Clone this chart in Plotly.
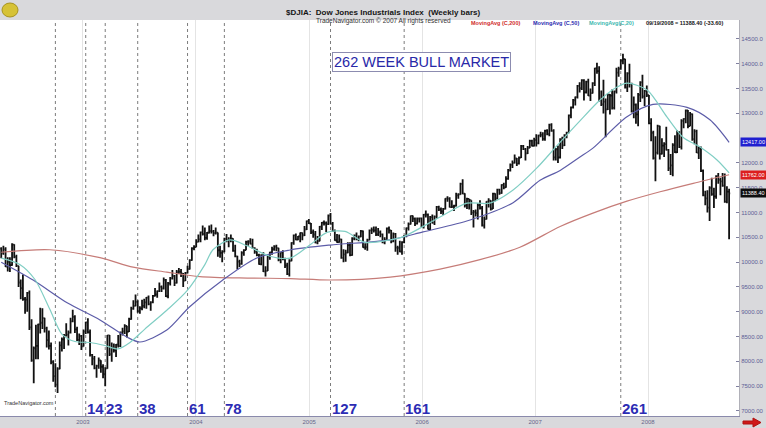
import pandas as pd
import plotly.graph_objects as go

# ---------------- data (weekly bars, $DJIA) ----------------
FIRST_WEEK = "2002-04-12"
PRIOR_CLOSE = 10271.0   # close of the week before the first bar (used as first open)

CLOSE = [
    # 2002
    10190, 10257, 9911, 10007, 9939, 10353, 10105, 9925, 9590, 9475, 9253, 9243, 9380, 8684, 8019, 8264,
    8313, 8745, 8778, 8872, 8664, 8427, 8312, 7986, 7701, 7529, 7850, 8322, 8444, 8518, 8537, 8579, 8805,
    8896, 8645, 8433, 8511, 8303,
    # 2003
    8601, 8785, 8587, 8131, 8054, 7865, 7909, 8018, 7891, 7740, 7859, 8522, 8145, 8277, 8221, 8337, 8306,
    8583, 8604, 8713, 8601, 8850, 9062, 9117, 9200, 9011, 9070, 9119, 9188, 9285, 9153, 9191, 9321, 9348,
    9415, 9503, 9471, 9644, 9313, 9572, 9674, 9721, 9582, 9801, 9809, 9768, 9629, 9782, 9862, 10042, 10278, 10305,
    # 2004
    10409, 10458, 10600, 10568, 10488, 10593, 10628, 10620, 10584, 10595, 10240, 10186, 10213, 10470, 10442,
    10452, 10472, 10226, 10118, 10012, 9967, 10188, 10243, 10410, 10417, 10371, 10283, 10213, 10140, 9962,
    10140, 9815, 9825, 10110, 10196, 10260, 10314, 10284, 10047, 10192, 10055, 9933, 9757, 10027, 10387,
    10540, 10456, 10522, 10592, 10543, 10661, 10828, 10783,
    # 2005
    10603, 10558, 10393, 10427, 10716, 10796, 10785, 10766, 10941, 10774, 10629, 10442, 10404, 10461, 10087,
    10157, 10193, 10345, 10140, 10471, 10542, 10460, 10513, 10623, 10297, 10303, 10449, 10640, 10651, 10641,
    10559, 10600, 10559, 10397, 10447, 10679, 10641, 10420, 10569, 10292, 10288, 10215, 10403, 10531, 10686,
    10766, 10932, 10878, 10778, 10876, 10883, 10718,
    # 2006
    10959, 10960, 10668, 10908, 10794, 10920, 11115, 11062, 11022, 11076, 11280, 11280, 11109, 11121, 11138,
    11347, 11367, 11578, 11380, 11144, 11278, 11248, 11000, 11014, 10990, 11150, 11091, 10739, 10868, 11219,
    11240, 11077, 11381, 11284, 11464, 11392, 11560, 11508, 11679, 11850, 11960, 12002, 12090, 11986, 12108,
    12342, 12280, 12194, 12307, 12445, 12343, 12463,
    # 2007
    12398, 12556, 12565, 12487, 12653, 12580, 12767, 12647, 12114, 12276, 12110, 12481, 12354, 12560, 12612,
    12961, 13120, 13265, 13327, 13556, 13507, 13668, 13424, 13639, 13360, 13409, 13611, 13907, 13851, 13266,
    13182, 13239, 13079, 13379, 13358, 13113, 13442, 13820, 13896, 14066, 14093, 13522, 13807, 13596, 13043,
    13177, 12981, 13372, 13626, 13340, 13451, 13366,
    # 2008
    12800, 12606, 12099, 12207, 12743, 12183, 12348, 12381, 12266, 11894, 11951, 12361, 12216, 12609, 12325,
    12850, 12891, 13058, 12745, 12986, 12480, 12638, 12209, 12307, 11843, 11346, 11288, 11100, 11496, 11370,
    11326, 11734, 11659, 11628, 11543, 11220, 11422, 11388.40,
]

HIGH = [
    10300, 10330, 10300, 10100, 10100, 10380, 10360, 10150, 9930, 9650, 9750, 9300, 9400, 9430, 8850, 8300,
    8740, 8760, 9080, 9070, 8880, 8700, 8620, 8380, 8020, 7960, 7880, 8400, 8480, 8550, 8770, 8620, 8880,
    9040, 8930, 8700, 8560, 8530,
    8640, 8800, 8870, 8640, 8150, 8110, 7930, 8080, 8020, 7940, 7880, 8530, 8530, 8380, 8360, 8350, 8530,
    8600, 8680, 8750, 8720, 8880, 9100, 9230, 9350, 9230, 9110, 9240, 9260, 9300, 9330, 9210, 9340, 9480,
    9430, 9590, 9530, 9690, 9660, 9600, 9700, 9840, 9740, 9840, 9880, 9860, 9780, 9800, 9930, 10060, 10300, 10340,
    10460, 10560, 10620, 10740, 10700, 10610, 10740, 10760, 10650, 10700, 10600, 10330, 10240, 10490, 10570,
    10500, 10560, 10480, 10350, 10130, 10050, 10220, 10260, 10430, 10440, 10480, 10470, 10300, 10270, 10170,
    10160, 10200, 9920, 10130, 10210, 10310, 10340, 10350, 10290, 10200, 10240, 10090, 9990, 10060, 10400,
    10560, 10580, 10530, 10600, 10600, 10730, 10840, 10870,
    10790, 10660, 10630, 10530, 10730, 10810, 10840, 10820, 10960, 10990, 10810, 10660, 10570, 10560, 10470,
    10260, 10250, 10400, 10400, 10500, 10560, 10600, 10540, 10650, 10640, 10380, 10470, 10660, 10700, 10720,
    10720, 10690, 10640, 10580, 10500, 10700, 10720, 10650, 10600, 10590, 10330, 10430, 10420, 10550, 10700,
    10800, 10940, 10940, 10900, 10900, 10900, 10900,
    10970, 11040, 10980, 10930, 10960, 10940, 11130, 11140, 11100, 11090, 11290, 11330, 11310, 11250, 11160,
    11400, 11390, 11600, 11670, 11390, 11300, 11280, 11250, 11050, 11060, 11190, 11250, 11130, 10920, 11230,
    11290, 11250, 11400, 11390, 11480, 11480, 11570, 11600, 11730, 11880, 11990, 12050, 12170, 12100, 12130,
    12360, 12360, 12300, 12340, 12470, 12470, 12510,
    12580, 12570, 12630, 12620, 12670, 12680, 12790, 12800, 12680, 12300, 12350, 12500, 12530, 12580, 12630,
    12980, 13140, 13290, 13340, 13570, 13630, 13690, 13690, 13660, 13700, 13500, 13630, 13920, 14020, 13950,
    13460, 13680, 13300, 13400, 13390, 13480, 13460, 13920, 13940, 14090, 14200, 14100, 13830, 14000, 13620,
    13340, 13200, 13410, 13650, 13780, 13470, 13560,
    13370, 12900, 12650, 12540, 12770, 12750, 12500, 12420, 12730, 12280, 12180, 12400, 12560, 12660, 12640,
    12880, 12900, 13080, 13070, 13030, 13000, 12680, 12670, 12330, 12330, 11870, 11440, 11450, 11530, 11700,
    11500, 11750, 11800, 11700, 11800, 11790, 11530, 11480,
]

LOW = [
    10080, 10150, 9900, 9810, 9800, 9930, 10080, 9900, 9500, 9250, 9220, 8960, 9000, 8630, 7990, 7560,
    8040, 8040, 8560, 8650, 8580, 8280, 8240, 7940, 7590, 7480, 7360, 7840, 8200, 8250, 8500, 8320, 8560,
    8790, 8570, 8410, 8330, 8230,
    8300, 8550, 8560, 8100, 7920, 7840, 7670, 7850, 7770, 7660, 7500, 7850, 8110, 7990, 8180, 8090, 8280,
    8290, 8520, 8550, 8480, 8590, 8840, 9040, 9110, 8980, 8960, 9030, 9070, 9060, 9130, 9020, 9170, 9310,
    9280, 9400, 9400, 9450, 9300, 9270, 9530, 9650, 9520, 9570, 9760, 9700, 9500, 9620, 9770, 9850, 10030, 10240,
    10300, 10400, 10400, 10540, 10440, 10450, 10580, 10580, 10520, 10560, 10110, 10090, 10000, 10200, 10400,
    10300, 10400, 10210, 10100, 9850, 9900, 9950, 10130, 10240, 10330, 10360, 10270, 10170, 10120, 9950,
    9940, 9800, 9710, 9820, 10050, 10150, 10230, 10220, 10020, 9980, 10040, 9880, 9740, 9710, 10020,
    10350, 10440, 10440, 10400, 10440, 10530, 10650, 10770,
    10570, 10490, 10380, 10360, 10420, 10650, 10740, 10610, 10750, 10760, 10610, 10430, 10390, 10390, 10070,
    10000, 10010, 10180, 10120, 10130, 10440, 10440, 10420, 10500, 10290, 10250, 10230, 10440, 10570, 10600,
    10530, 10530, 10500, 10380, 10360, 10440, 10580, 10380, 10400, 10210, 10150, 10200, 10150, 10380, 10500,
    10640, 10760, 10810, 10730, 10760, 10800, 10710,
    10680, 10900, 10660, 10650, 10780, 10750, 10880, 11030, 10970, 10950, 11060, 11220, 11100, 11090, 11030,
    11120, 11280, 11360, 11370, 11100, 11070, 11060, 10950, 10700, 10920, 10860, 11060, 10720, 10680, 10860,
    11100, 11040, 11070, 11230, 11270, 11360, 11380, 11470, 11500, 11660, 11830, 11900, 11990, 11940, 11970,
    12100, 12260, 12050, 12180, 12300, 12330, 12330,
    12330, 12380, 12520, 12450, 12450, 12560, 12540, 12630, 12050, 12050, 12000, 12090, 12280, 12340, 12500,
    12600, 12900, 13100, 13160, 13300, 13420, 13470, 13260, 13400, 13350, 13250, 13400, 13550, 13800, 13240,
    13150, 13000, 12520, 13070, 12980, 13080, 13080, 13400, 13740, 13880, 13990, 13500, 13430, 13520, 13020,
    12900, 12790, 12740, 13230, 13300, 13150, 13330,
    12780, 12440, 12070, 11630, 12170, 12070, 12170, 12120, 12250, 11840, 11760, 11730, 12200, 12200, 12300,
    12270, 12700, 12800, 12700, 12740, 12450, 12380, 12200, 12080, 11820, 11330, 11150, 11000, 10830, 11340,
    11090, 11280, 11580, 11350, 11520, 11200, 11190, 10460,
]

# moving averages
MA200_DATES = ["2002-04-12", "2002-09-16", "2003-02-25", "2003-06-12", "2003-09-29", "2004-01-14",
               "2004-06-15", "2004-10-31", "2005-03-10", "2005-09-20", "2006-02-28", "2006-07-07",
               "2006-11-13", "2007-03-23", "2007-07-07", "2007-10-25", "2008-02-09", "2008-05-26", "2008-09-19"]
MA200 = [10200, 10250, 10090, 9900, 9800, 9710, 9680, 9670, 9640, 9700, 9860, 10050,
         10300, 10720, 10990, 11230, 11420, 11590, 11762]

MA50_DATES = ["2002-04-12", "2002-07-24", "2002-11-11", "2003-02-25", "2003-05-23", "2003-07-04",
              "2003-09-29", "2003-12-12", "2004-03-28", "2004-07-16", "2004-10-31", "2005-03-10",
              "2005-09-20", "2006-01-04", "2006-06-05", "2006-10-22", "2007-01-17", "2007-03-23",
              "2007-05-26", "2007-07-07", "2007-10-25", "2008-01-17", "2008-05-06", "2008-07-19", "2008-09-19"]
MA50 = [10000, 9640, 9180, 8835, 8490, 8390, 8630, 9100, 9640, 10085, 10245, 10345,
        10450, 10610, 10850, 11200, 11650, 11850, 12120, 12300, 12930, 13180, 13120, 12870, 12417]

MA20_DATES = ["2002-04-12", "2002-06-12", "2002-07-30", "2002-09-16", "2002-10-25", "2002-12-06",
              "2003-01-24", "2003-03-13", "2003-04-24", "2003-06-02", "2003-07-20", "2003-09-29",
              "2003-12-03", "2004-01-30", "2004-02-25", "2004-04-20", "2004-06-14", "2004-08-27",
              "2004-10-31", "2005-01-04", "2005-02-28", "2005-04-27", "2005-07-01", "2005-09-20",
              "2005-10-31", "2006-02-28", "2006-05-26", "2006-08-08", "2006-10-22", "2007-01-07",
              "2007-03-13", "2007-05-26", "2007-07-30", "2007-09-23", "2007-10-25", "2007-12-29",
              "2008-03-02", "2008-04-23", "2008-06-17", "2008-08-11", "2008-09-19"]
MA20 = [10080, 9950, 9650, 9050, 8550, 8400, 8380, 8320, 8250, 8380, 8650, 9030,
        9420, 9950, 10250, 10450, 10330, 10120, 10080, 10350, 10600, 10620, 10400, 10450,
        10510, 10910, 11190, 11190, 11455, 11900, 12350, 12850, 13270, 13530, 13610, 13470,
        12930, 12520, 12320, 12060, 11800]

MA_NAMES = ["MovingAvg (C,200)", "MovingAvg (C,50)", "MovingAvg(C,20)"]
MA_COLORS = ["#c67c78", "#5c5ca8", "#80cec4"]
MA_LABEL_COLORS = ["#d02a2a", "#2a2ab0", "#3cb8b0"]

BULL_START = "2002-10-04"
WEEK_MARKS = [0, 14, 23, 38, 61, 78, 127, 161, 261]
YEARS = [2003, 2004, 2005, 2006, 2007, 2008]
Y_TICKS = list(range(7000, 15000, 500))
HIDDEN_TICK = 12500   # covered by the MA value box in the reference

TITLE = "$DJIA:  Dow Jones Industrials Index  (Weekly bars)"
SUBTITLE = "TradeNavigator.com © 2007 All rights reserved"
BOX_TEXT = "262 WEEK BULL MARKET"

# ---------------- figure ----------------
W, H = 766, 428
ML, MR, MT, MB = 0, 27, 20, 12
PW, PH = W - ML - MR, H - MT - MB
FONT = "Liberation Sans, Arial, sans-serif"


def PX(p):
    return (p - ML) / PW


def PY(p):
    return (H - MB - p) / PH


dates = pd.date_range(FIRST_WEEK, periods=len(CLOSE), freq="W-FRI")
opens = [PRIOR_CLOSE] + CLOSE[:-1]

fig = go.Figure()

ma_sets = [(MA200_DATES, MA200), (MA50_DATES, MA50), (MA20_DATES, MA20)]
for (dx, dy), name, col in zip(ma_sets, MA_NAMES, MA_COLORS):
    fig.add_trace(go.Scatter(x=pd.to_datetime(dx), y=dy, mode="lines", name=name,
                             line=dict(color=col, width=1.2, shape="spline", smoothing=0.8),
                             hoverinfo="skip"))

fig.add_trace(go.Ohlc(x=dates, open=opens, high=HIGH, low=LOW, close=CLOSE, name="$DJIA",
                      increasing=dict(line=dict(color="#111111", width=1.8)),
                      decreasing=dict(line=dict(color="#111111", width=1.8)),
                      tickwidth=0.5))

shapes = []
annotations = []
bull0 = pd.Timestamp(BULL_START)
for n in WEEK_MARKS:
    xd = bull0 + pd.Timedelta(weeks=n)
    shapes.append(dict(type="line", xref="x", yref="paper", x0=xd, x1=xd, y0=0, y1=1,
                       line=dict(color="#7c7c7c", width=1, dash="dot"), layer="below"))
    if n > 0:
        annotations.append(dict(x=xd, y=PY(408), xref="x", yref="paper", xanchor="left", yanchor="middle",
                                text=f"<b>{n}</b>", showarrow=False, borderpad=0,
                                font=dict(family=FONT, size=15, color="#2c2cb4")))

# header
annotations.append(dict(x=PX(383), y=PY(6), xref="paper", yref="paper", text=f"<b>{TITLE}</b>",
                        showarrow=False, font=dict(family=FONT, size=8, color="#151515")))
annotations.append(dict(x=PX(383), y=PY(15), xref="paper", yref="paper", text=SUBTITLE,
                        showarrow=False, font=dict(family=FONT, size=6.5, color="#333333")))

# legend line
leg_x = [470, 532, 588]
for name, col, xp in zip(MA_NAMES, MA_LABEL_COLORS, leg_x):
    annotations.append(dict(x=PX(xp), y=PY(23), xref="paper", yref="paper", xanchor="left",
                            yanchor="middle", text=f"<b>{name}</b>", showarrow=False, borderpad=0,
                            font=dict(family=FONT, size=5.5, color=col)))
last_txt = (f"{dates[-1].strftime('%m/%d/%Y')} = {CLOSE[-1]:.2f} "
            f"({CLOSE[-1] - CLOSE[-2]:.2f})")
annotations.append(dict(x=PX(645), y=PY(23), xref="paper", yref="paper", xanchor="left", yanchor="middle",
                        text=f"<b>{last_txt}</b>", showarrow=False, borderpad=0,
                        font=dict(family=FONT, size=5.5, color="#151515")))

# boxed title
annotations.append(dict(x=PX(421), y=PY(52), xref="paper", yref="paper", text=BOX_TEXT,
                        showarrow=False, bgcolor="#ffffff", bordercolor="#8c8cb0", borderwidth=1,
                        borderpad=1, font=dict(family=FONT, size=14.5, color="#2828a8")))

# bottom-left watermark
annotations.append(dict(x=PX(3), y=PY(403), xref="paper", yref="paper", xanchor="left", yanchor="middle",
                        text="TradeNavigator.com", showarrow=False, borderpad=0,
                        font=dict(family=FONT, size=5.5, color="#333333")))

# last-value boxes on the price axis
for val, bg in [(MA50[-1], "#1f1fd0"), (MA200[-1], "#dc1e1e"), (CLOSE[-1], "#0e0e0e")]:
    annotations.append(dict(x=1, y=val, xref="paper", yref="y", xanchor="left", yanchor="middle",
                            xshift=1, text=f"{val:.2f}", showarrow=False, bgcolor=bg, borderpad=1,
                            font=dict(family=FONT, size=5.5, color="#ffffff")))

# logo and arrow decorations
shapes.append(dict(type="circle", xref="paper", yref="paper", x0=PX(2), x1=PX(18), y0=PY(17), y1=PY(3),
                   fillcolor="#d6c236", line=dict(color="#a89420", width=1)))
arrow = (f"M {PX(743)},{PY(421)} L {PX(753)},{PY(421)} L {PX(753)},{PY(418)} L {PX(761)},{PY(422.5)} "
         f"L {PX(753)},{PY(427)} L {PX(753)},{PY(424)} L {PX(743)},{PY(424)} Z")
shapes.append(dict(type="path", xref="paper", yref="paper", path=arrow, fillcolor="#d01818",
                   line=dict(color="#b01010", width=1)))

y_vals = [v for v in Y_TICKS if v != HIDDEN_TICK]
y_text = [f"{v:.2f}" if v < 10000 else f"{v:.1f}" for v in y_vals]

fig.update_layout(
    width=W, height=H, template="none",
    margin=dict(l=ML, r=MR, t=MT, b=MB, pad=0),
    paper_bgcolor="#d9d9dc", plot_bgcolor="#ffffff",
    showlegend=False, shapes=shapes, annotations=annotations,
    xaxis=dict(type="date", range=["2002-04-08", "2008-10-21"],
               tickvals=[f"{y}-01-01" for y in YEARS], ticktext=[str(y) for y in YEARS],
               showgrid=True, gridcolor="#e4e4e4", gridwidth=1, zeroline=False,
               showline=True, linecolor="#8a8aac", linewidth=1, ticks="",
               tickfont=dict(family=FONT, size=6, color="#66668a"),
               rangeslider=dict(visible=False), automargin=False, fixedrange=True),
    yaxis=dict(side="right", range=[6898, 14883], tickvals=y_vals, ticktext=y_text,
               showgrid=False, zeroline=False, showline=True, linecolor="#b0b0b8", linewidth=1,
               ticks="inside", ticklen=3, tickcolor="#8080a0",
               tickfont=dict(family=FONT, size=6, color="#5e5e96"), automargin=False,
               fixedrange=True),
)

fig.write_html("out.html", config={"displayModeBar": False},
               post_script="document.body.style.margin='0';document.body.style.padding='0';")
